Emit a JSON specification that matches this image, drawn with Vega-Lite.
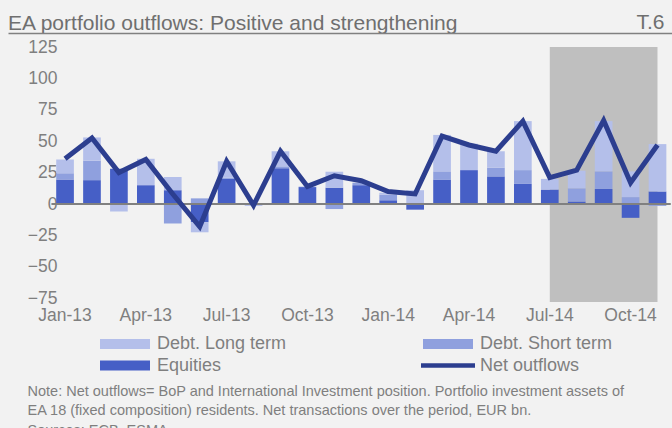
{
  "$schema": "https://vega.github.io/schema/vega-lite/v6.json",
  "width": 664,
  "height": 255,
  "autosize": {"type": "none"},
  "padding": {"left": 8, "top": 47, "right": 0, "bottom": 126},
  "background": "#f2f2f2",
  "config": {"font": "Liberation Sans", "view": {"stroke": null}},
  "title": {
    "text": "EA portfolio outflows: Positive and strengthening",
    "anchor": "start", "frame": "group", "fontSize": 21, "fontWeight": "normal",
    "color": "#6f6f6f", "baseline": "alphabetic", "offset": 0, "dy": 40
  },
  "data": {"values": [{"from": "Jul-14", "to": "Nov-14"}]},
  "datasets": {
    "bars": [
      {"month": "Jan-13", "series": "Equities", "value": 19.5},
      {"month": "Jan-13", "series": "Debt. Short term", "value": 5},
      {"month": "Jan-13", "series": "Debt. Long term", "value": 11},
      {"month": "Feb-13", "series": "Equities", "value": 19},
      {"month": "Feb-13", "series": "Debt. Short term", "value": 15.5},
      {"month": "Feb-13", "series": "Debt. Long term", "value": 18.5},
      {"month": "Mar-13", "series": "Equities", "value": 28},
      {"month": "Mar-13", "series": "Debt. Short term", "value": 0},
      {"month": "Mar-13", "series": "Debt. Long term", "value": -6},
      {"month": "Apr-13", "series": "Equities", "value": 15},
      {"month": "Apr-13", "series": "Debt. Short term", "value": 0},
      {"month": "Apr-13", "series": "Debt. Long term", "value": 21},
      {"month": "May-13", "series": "Equities", "value": 11},
      {"month": "May-13", "series": "Debt. Short term", "value": -15.5},
      {"month": "May-13", "series": "Debt. Long term", "value": 10.5},
      {"month": "Jun-13", "series": "Equities", "value": -14.5},
      {"month": "Jun-13", "series": "Debt. Short term", "value": 4.5},
      {"month": "Jun-13", "series": "Debt. Long term", "value": -8},
      {"month": "Jul-13", "series": "Equities", "value": 20},
      {"month": "Jul-13", "series": "Debt. Short term", "value": 1},
      {"month": "Jul-13", "series": "Debt. Long term", "value": 13},
      {"month": "Aug-13", "series": "Equities", "value": 0.5},
      {"month": "Aug-13", "series": "Debt. Short term", "value": 0},
      {"month": "Aug-13", "series": "Debt. Long term", "value": -1.5},
      {"month": "Sep-13", "series": "Equities", "value": 28.5},
      {"month": "Sep-13", "series": "Debt. Short term", "value": 1.5},
      {"month": "Sep-13", "series": "Debt. Long term", "value": 12},
      {"month": "Oct-13", "series": "Equities", "value": 13.5},
      {"month": "Oct-13", "series": "Debt. Short term", "value": 0},
      {"month": "Oct-13", "series": "Debt. Long term", "value": 0.5},
      {"month": "Nov-13", "series": "Equities", "value": 13},
      {"month": "Nov-13", "series": "Debt. Short term", "value": -4},
      {"month": "Nov-13", "series": "Debt. Long term", "value": 12.7},
      {"month": "Dec-13", "series": "Equities", "value": 15},
      {"month": "Dec-13", "series": "Debt. Short term", "value": 2},
      {"month": "Dec-13", "series": "Debt. Long term", "value": 0},
      {"month": "Jan-14", "series": "Equities", "value": 3},
      {"month": "Jan-14", "series": "Debt. Short term", "value": 4.5},
      {"month": "Jan-14", "series": "Debt. Long term", "value": 1.5},
      {"month": "Feb-14", "series": "Equities", "value": -4.5},
      {"month": "Feb-14", "series": "Debt. Short term", "value": 0},
      {"month": "Feb-14", "series": "Debt. Long term", "value": 11},
      {"month": "Mar-14", "series": "Equities", "value": 19.5},
      {"month": "Mar-14", "series": "Debt. Short term", "value": 6.5},
      {"month": "Mar-14", "series": "Debt. Long term", "value": 29},
      {"month": "Apr-14", "series": "Equities", "value": 27},
      {"month": "Apr-14", "series": "Debt. Short term", "value": 0},
      {"month": "Apr-14", "series": "Debt. Long term", "value": 21},
      {"month": "May-14", "series": "Equities", "value": 22},
      {"month": "May-14", "series": "Debt. Short term", "value": 7},
      {"month": "May-14", "series": "Debt. Long term", "value": 13},
      {"month": "Jun-14", "series": "Equities", "value": 16},
      {"month": "Jun-14", "series": "Debt. Short term", "value": 11},
      {"month": "Jun-14", "series": "Debt. Long term", "value": 39},
      {"month": "Jul-14", "series": "Equities", "value": 11.5},
      {"month": "Jul-14", "series": "Debt. Short term", "value": 0},
      {"month": "Jul-14", "series": "Debt. Long term", "value": 8.5},
      {"month": "Aug-14", "series": "Equities", "value": 2},
      {"month": "Aug-14", "series": "Debt. Short term", "value": 10.5},
      {"month": "Aug-14", "series": "Debt. Long term", "value": 14},
      {"month": "Sep-14", "series": "Equities", "value": 12},
      {"month": "Sep-14", "series": "Debt. Short term", "value": 14},
      {"month": "Sep-14", "series": "Debt. Long term", "value": 40},
      {"month": "Oct-14", "series": "Equities", "value": -11},
      {"month": "Oct-14", "series": "Debt. Short term", "value": 5.5},
      {"month": "Oct-14", "series": "Debt. Long term", "value": 20.5},
      {"month": "Nov-14", "series": "Equities", "value": 10},
      {"month": "Nov-14", "series": "Debt. Short term", "value": -1.5},
      {"month": "Nov-14", "series": "Debt. Long term", "value": 37.7}
    ],
    "net": [
      {"month": "Jan-13", "net": 36},
      {"month": "Feb-13", "net": 52.5},
      {"month": "Mar-13", "net": 25},
      {"month": "Apr-13", "net": 35.5},
      {"month": "May-13", "net": 8},
      {"month": "Jun-13", "net": -18},
      {"month": "Jul-13", "net": 34},
      {"month": "Aug-13", "net": -1},
      {"month": "Sep-13", "net": 42},
      {"month": "Oct-13", "net": 14},
      {"month": "Nov-13", "net": 22.5},
      {"month": "Dec-13", "net": 18.5},
      {"month": "Jan-14", "net": 10},
      {"month": "Feb-14", "net": 8},
      {"month": "Mar-14", "net": 54},
      {"month": "Apr-14", "net": 47},
      {"month": "May-14", "net": 42},
      {"month": "Jun-14", "net": 66},
      {"month": "Jul-14", "net": 21},
      {"month": "Aug-14", "net": 27},
      {"month": "Sep-14", "net": 66.5},
      {"month": "Oct-14", "net": 17},
      {"month": "Nov-14", "net": 47}
    ]
  },
  "resolve": {"axis": {"x": "independent"}},
  "layer": [
    {
      "mark": {"type": "rect", "color": "#bfbfbf"},
      "encoding": {
        "x": {
          "field": "from", "type": "ordinal", "bandPosition": 0.5,
          "scale": {
            "type": "band",
            "domain": ["Jan-13","Feb-13","Mar-13","Apr-13","May-13","Jun-13","Jul-13","Aug-13","Sep-13","Oct-13","Nov-13","Dec-13","Jan-14","Feb-14","Mar-14","Apr-14","May-14","Jun-14","Jul-14","Aug-14","Sep-14","Oct-14","Nov-14"],
            "paddingInner": 0.3434, "paddingOuter": 1.495, "align": 0.895
          },
          "axis": {
            "orient": "top", "labels": false, "ticks": false, "grid": false,
            "domain": true, "domainColor": "#808080", "domainWidth": 1.5, "offset": 14,
            "title": "T.6", "titleAnchor": "start", "titleAlign": "right", "titleBaseline": "alphabetic",
            "titleX": 656, "titleY": -5, "titleFontSize": 21, "titleFontWeight": "normal", "titleColor": "#6f6f6f"
          }
        },
        "x2": {"field": "to", "bandPosition": 0.5}
      }
    },
    {
      "data": {"name": "bars"},
      "mark": {"type": "bar"},
      "encoding": {
        "x": {
          "field": "month", "type": "ordinal", "sort": null,
          "axis": {
            "orient": "bottom",
            "values": ["Jan-13","Apr-13","Jul-13","Oct-13","Jan-14","Apr-14","Jul-14","Oct-14"],
            "labelAngle": 0, "labelFontSize": 17.5, "labelColor": "#7f7f7f", "labelPadding": 4,
            "ticks": false, "domain": false, "grid": false,
            "title": ["Note: Net outflows= BoP and International Investment position. Portfolio investment assets of", "EA 18 (fixed composition) residents. Net  transactions over  the period, EUR bn.", "Sources: ECB, ESMA."],
            "titleAnchor": "start", "titleAlign": "left", "titleX": 19, "titleY": 93,
            "titleBaseline": "alphabetic", "titleFontSize": 14.5, "titleLineHeight": 19.5,
            "titleFontWeight": "normal", "titleColor": "#7f7f7f"
          }
        },
        "y": {
          "field": "value", "type": "quantitative",
          "scale": {"domain": [-78, 125], "nice": false, "zero": false},
          "axis": {
            "values": [-75, -50, -25, 0, 25, 50, 75, 100, 125],
            "offset": -65, "labelPadding": 16, "labelFontSize": 17.5, "labelColor": "#7f7f7f",
            "ticks": false, "domain": false, "grid": false, "title": null
          }
        },
        "color": {
          "field": "series", "type": "nominal",
          "scale": {
            "domain": ["Debt. Long term", "Debt. Short term", "Equities", "Net outflows"],
            "range": ["#b4bfea", "#8fa0de", "#465fc6", "#2c3e8f"]
          },
          "legend": {
            "title": null, "orient": "none", "legendX": 88, "legendY": 288, "columns": 2,
            "direction": "horizontal",
            "columnPadding": 132, "rowPadding": 3.5, "padding": 0,
            "symbolType": "M-1,-1H9V1H-1Z", "symbolSize": 100, "symbolStrokeWidth": 0,
            "labelFontSize": 18, "labelColor": "#7f7f7f", "labelOffset": 43, "symbolOpacity": 1,
            "encode": {
              "symbols": {
                "update": {
                  "shape": {"signal": "datum.value === 'Net outflows' ? 'M-1.4,-0.45H9.4V0.45H-1.4Z' : 'M-1,-1H9V1H-1Z'"},
                  "fill": {"signal": "scale('color', datum.value)"},
                  "strokeWidth": {"value": 0}
                }
              }
            }
          }
        },
        "order": {"field": "series", "sort": "descending"}
      }
    },
    {
      "mark": {"type": "rule", "color": "#808080", "strokeWidth": 2},
      "encoding": {
        "x": {"datum": "Jan-13", "type": "ordinal", "bandPosition": -0.27, "axis": null},
        "x2": {"datum": "Nov-14", "bandPosition": 1.25},
        "y": {
          "datum": 0, "type": "quantitative",
          "axis": {
            "values": [-75, -50, -25, 0, 25, 50, 75, 100, 125],
            "offset": -65, "labelPadding": 16, "labelFontSize": 17.5, "labelColor": "#7f7f7f",
            "ticks": false, "domain": false, "grid": false, "title": null
          }
        }
      }
    },
    {
      "data": {"name": "net"},
      "mark": {"type": "line", "strokeWidth": 5, "strokeJoin": "miter"},
      "encoding": {
        "x": {"field": "month", "type": "ordinal", "sort": null, "axis": null},
        "y": {
          "field": "net", "type": "quantitative",
          "axis": {
            "values": [-75, -50, -25, 0, 25, 50, 75, 100, 125],
            "offset": -65, "labelPadding": 16, "labelFontSize": 17.5, "labelColor": "#7f7f7f",
            "ticks": false, "domain": false, "grid": false, "title": null
          }
        },
        "color": {"datum": "Net outflows"}
      }
    }
  ]
}
